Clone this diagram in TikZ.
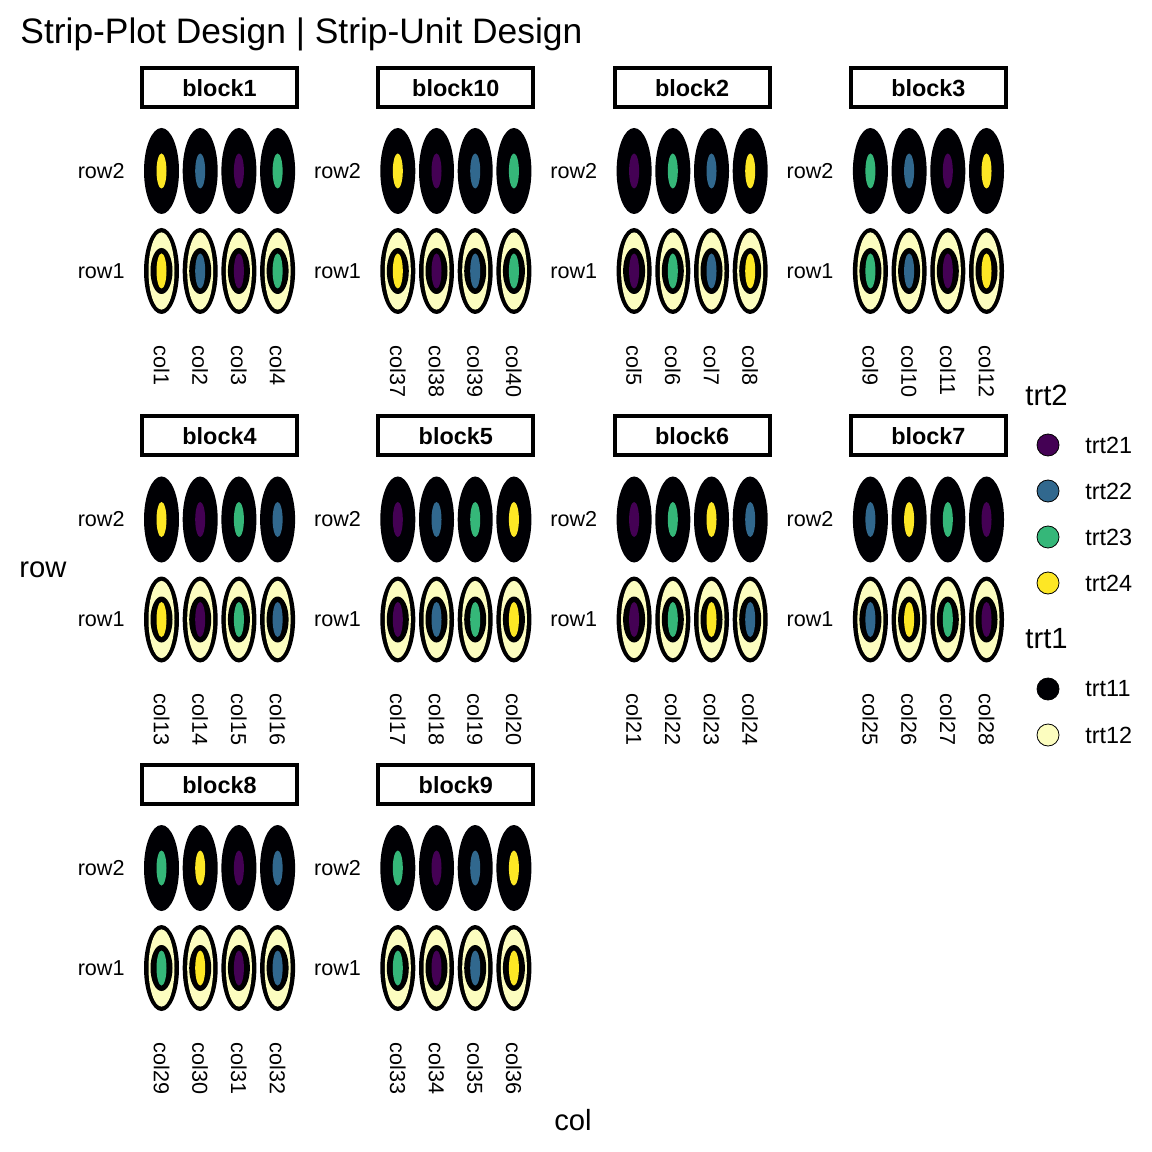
\documentclass[tikz,border=0pt]{standalone}
\usepackage{fontspec}
\setmainfont{Liberation Sans}
\definecolor{tA}{HTML}{440154}
\definecolor{tB}{HTML}{31688E}
\definecolor{tC}{HTML}{35B779}
\definecolor{tD}{HTML}{FDE725}
\definecolor{tK}{HTML}{000004}
\definecolor{tL}{HTML}{FCFDBF}
\begin{document}
\begin{tikzpicture}[x=0.5bp,y=-0.5bp,
  titletext/.style={font=\fontsize{17.7bp}{20bp}\selectfont, inner sep=0pt},
  axtitle/.style={font=\fontsize{14.6bp}{17bp}\selectfont, inner sep=0pt},
  axtext/.style={font=\fontsize{10.8bp}{13bp}\selectfont, inner sep=0pt},
  legtitle/.style={font=\fontsize{14.6bp}{17bp}\selectfont, inner sep=0pt},
  legtext/.style={font=\fontsize{11.7bp}{14bp}\selectfont, inner sep=0pt},
  striptext/.style={font=\fontsize{11.7bp}{14bp}\selectfont\bfseries, inner sep=0pt},
  stripbox/.style={draw=black, line width=2bp, fill=white},
  legkey/.style={draw=black, line width=0.4bp}]
\useasboundingbox (0,0) rectangle (1152,1152);
\fill[white] (0,0) rectangle (1152,1152);
\node[titletext, anchor=base west] (title) at (20,44) {Strip-Plot Design | Strip-Unit Design};
\foreach \bn/\r/\c/\s/\ca/\cb/\cc/\cd in {1/0/0/1/tD/tB/tA/tC, 10/0/1/37/tD/tA/tB/tC, 2/0/2/5/tA/tC/tB/tD, 3/0/3/9/tC/tB/tA/tD, 4/1/0/13/tD/tA/tC/tB, 5/1/1/17/tA/tB/tC/tD, 6/1/2/21/tA/tC/tD/tB, 7/1/3/25/tB/tD/tC/tA, 8/2/0/29/tC/tD/tA/tB, 9/2/1/33/tC/tA/tB/tD}{
  \pgfmathsetmacro\Lx{140+236.3*\c}
  \pgfmathsetmacro\Ty{66+348.5*\r}
  \pgfmathsetmacro\ya{\Ty+105}
  \pgfmathsetmacro\yb{\Ty+205}
  \draw[stripbox] (\Lx+2,\Ty+2) rectangle (\Lx+157,\Ty+41);
  \node[striptext] (strip\bn) at (\Lx+79.5,\Ty+22) {block\bn};
  \node[axtext, anchor=east] (rowtwo\bn) at (\Lx-15,\ya) {row2};
  \node[axtext, anchor=east] (rowone\bn) at (\Lx-15,\yb) {row1};
  \foreach \k/\cl in {0/\ca,1/\cb,2/\cc,3/\cd}{
    \pgfmathsetmacro\cx{\Lx+21.5+38.7*\k}
    \pgfmathtruncatemacro\cn{\s+\k}
    % row2 : trt11
    \fill[tK] (\cx,\ya) ellipse [x radius=8.75bp, y radius=21.5bp];
    \fill[\cl] (\cx,\ya) ellipse [x radius=2.5bp, y radius=8.75bp];
    % row1 : trt12
    \fill[black] (\cx,\yb) ellipse [x radius=8.75bp, y radius=21.5bp];
    \fill[tL] (\cx,\yb) ellipse [x radius=6.5bp, y radius=19.3bp];
    \fill[black] (\cx,\yb) ellipse [x radius=5.5bp, y radius=11.5bp];
    \fill[\cl] (\cx,\yb) ellipse [x radius=2.5bp, y radius=8.75bp];
    \node[axtext, rotate=-90, anchor=west] (col\cn) at (\cx,\Ty+279) {col\cn};
  }
}
\node[axtitle] (rowtitle) at (43,570) {row};
\node[axtitle] (coltitle) at (573,1120) {col};
\node[legtitle, anchor=west] (legtwo) at (1025,395) {trt2};
\foreach \i/\cl/\t in {0/tA/trt21,1/tB/trt22,2/tC/trt23,3/tD/trt24}{
  \filldraw[legkey, fill=\cl] (1048,445+46*\i) circle [radius=5.5bp];
  \node[legtext, anchor=west] (leg\t) at (1085,445+46*\i) {\t};
}
\node[legtitle, anchor=west] (legone) at (1025,639) {trt1};
\foreach \i/\cl/\t in {0/tK/trt11,1/tL/trt12}{
  \filldraw[legkey, fill=\cl] (1048,689+46*\i) circle [radius=5.5bp];
  \node[legtext, anchor=west] (leg\t) at (1085,689+46*\i) {\t};
}
\end{tikzpicture}
\end{document}
